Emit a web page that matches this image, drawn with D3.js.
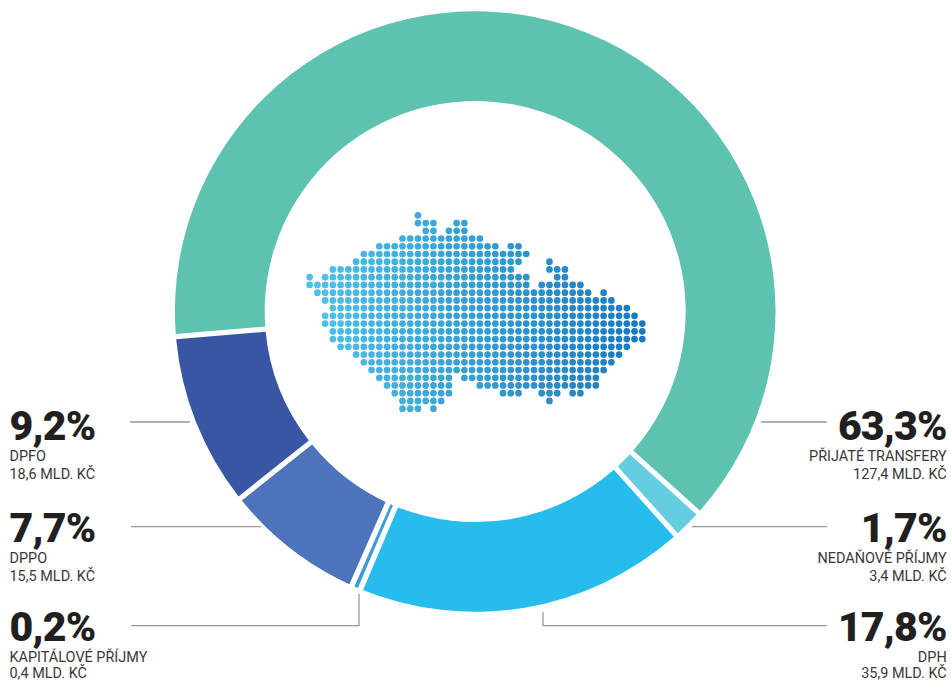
<!DOCTYPE html>
<html>
<head>
<meta charset="utf-8">
<script src="https://cdn.jsdelivr.net/npm/d3@7"></script>
<style>
    html, body { margin: 0; padding: 0; background: #fff; }
    svg { display: block; }
    .big { font: 900 41px Roboto, sans-serif; letter-spacing: -0.8px; fill: #231f20; }
    .small { font: 400 14.45px Roboto, sans-serif; fill: #3a3839; }
    .leader { fill: none; stroke: #999; stroke-width: 1.3; }
</style>
</head>
<body>
<div class="container"></div>
<script>
let names = ['PŘIJATÉ TRANSFERY', 'NEDAŇOVÉ PŘÍJMY', 'DPH', 'KAPITÁLOVÉ PŘÍJMY', 'DPPO', 'DPFO']
// slice sizes as measured on the drawn ring, they differ a little from the printed labels
let shares = [63.01, 1.68, 18.03, 0.2, 7.72, 9.36]
let shareLabels = ['63,3%', '1,7%', '17,8%', '0,2%', '7,7%', '9,2%']
let amountLabels = ['127,4 MLD. KČ', '3,4 MLD. KČ', '35,9 MLD. KČ', '0,4 MLD. KČ', '15,5 MLD. KČ', '18,6 MLD. KČ']
let colors = ['#5dc3b0', '#66cce0', '#26bdec', '#3d9bd9', '#4d73ba', '#3856a3']

// dot map of the country: for each grid row, the [first, last] columns that are filled
let mapRows = [
    [[14, 14]],
    [[14, 16], [19, 20]],
    [[15, 16], [18, 20]],
    [[12, 22]],
    [[9, 24], [26, 27]],
    [[7, 28]],
    [[6, 27], [31, 31]],
    [[3, 26], [31, 33]],
    [[0, 0], [2, 28], [32, 33]],
    [[0, 28], [30, 35]],
    [[1, 36], [38, 38]],
    [[2, 39]],
    [[3, 41]],
    [[2, 42]],
    [[2, 43]],
    [[3, 43]],
    [[3, 43]],
    [[4, 41]],
    [[6, 40]],
    [[7, 39]],
    [[8, 38]],
    [[9, 18], [20, 37]],
    [[10, 18], [22, 37]],
    [[11, 18], [25, 27], [30, 32], [34, 35]],
    [[12, 17], [31, 31]],
    [[12, 14], [16, 16]]
]

let width = 951
let height = 682
let cx = 475.2
let cy = 311.5
let outerR = 300.3
let innerR = 210.5
let gap = 5.2

let svg = d3.select('.container')
    .append('svg')
    .attr('width', width)
    .attr('height', height)

let pie = d3.pie()
    .sort(null)
    .startAngle(265.2 * Math.PI / 180)
    .endAngle((265.2 + 360) * Math.PI / 180)

let arc = d3.arc()
    .innerRadius(innerR)
    .outerRadius(outerR)
    .padRadius(outerR)
    .padAngle((d, i) => d.value < 1 ? 0 : gap / outerR)

let ring = svg.append('g')
    .attr('transform', `translate(${cx},${cy})`)

ring.selectAll('path')
    .data(pie(shares))
    .enter()
    .append('path')
    .attr('d', arc)
    .attr('fill', (d, i) => colors[i])

// the thin slice needs a wider white margin or it melts into its neighbours
ring.selectAll('path')
    .filter(d => d.value < 1)
    .raise()
    .attr('stroke', '#fff')
    .attr('stroke-width', 11)
    .style('paint-order', 'stroke')

// map
let colCount = 44
let rowCount = mapRows.length
let pitch = 7.735
let xMap = d3.scaleLinear().domain([0, colCount - 1]).range([309.67, 309.67 + pitch * (colCount - 1)])
let yMap = d3.scaleLinear().domain([0, rowCount - 1]).range([215.3, 215.3 + pitch * (rowCount - 1)])
let colorMap = d3.scaleLinear()
    .domain([0, colCount - 1])
    .range(['#50c2ea', '#1a79bd'])

let dots = []
mapRows.forEach((spans, r) => {
    spans.forEach(s => {
        d3.range(s[0], s[1] + 1).forEach(c => dots.push({ r: r, c: c }))
    })
})

svg.append('g')
    .selectAll('circle')
    .data(dots)
    .enter()
    .append('circle')
    .attr('cx', d => xMap(d.c))
    .attr('cy', d => yMap(d.r))
    .attr('r', 3.35)
    .attr('fill', d => colorMap(d.c))

// leaders
let leaders = [
    [[761, 422], [827, 422]],
    [[692, 526.7], [827, 526.7]],
    [[543, 612], [543, 625.7], [827, 625.7]],
    [[359, 594], [359, 625.7], [131, 625.7]],
    [[131, 526.7], [261, 526.7]],
    [[130, 422], [190, 422]]
]
let line = d3.line()

svg.append('g')
    .selectAll('path')
    .data(leaders)
    .enter()
    .append('path')
    .attr('class', 'leader')
    .attr('d', d => line(d))

// labels: first three on the right, last three on the left
let baselines = [439.7, 541.7, 640.7, 640.7, 541.7, 439.7]
let labels = svg.append('g')
    .selectAll('g')
    .data(names)
    .enter()
    .append('g')
    .attr('transform', (d, i) => `translate(${i < 3 ? 946.7 : 9.5},${baselines[i]})`)
    .attr('text-anchor', (d, i) => i < 3 ? 'end' : 'start')

labels.append('text')
    .attr('class', 'big')
    .text((d, i) => shareLabels[i])

labels.append('text')
    .attr('class', 'small')
    .attr('y', 21.4)
    .text(d => d)

// bottom row sits right at the page edge, keep it inside
labels.append('text')
    .attr('class', 'small')
    .attr('y', (d, i) => Math.min(39.6, height - 3.7 - baselines[i]))
    .text((d, i) => amountLabels[i])
</script>
</body>
</html>
